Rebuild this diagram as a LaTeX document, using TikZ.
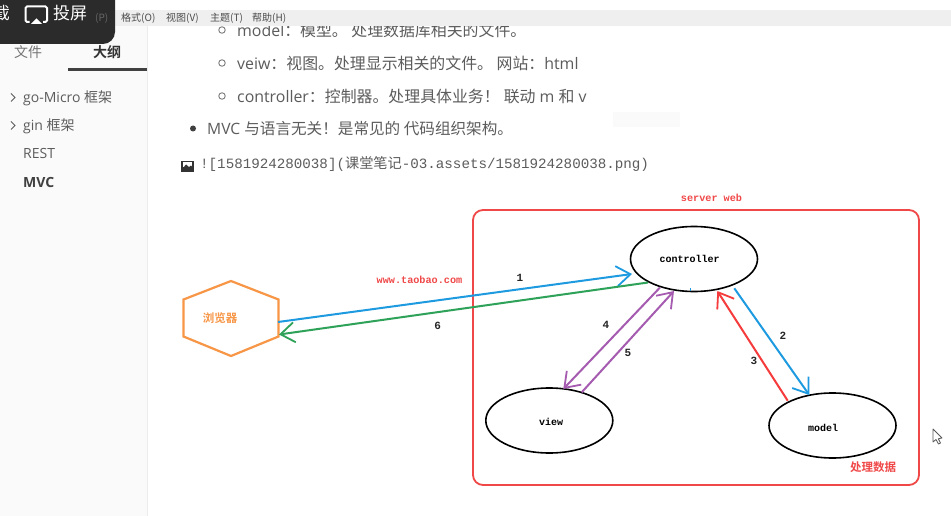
\documentclass[tikz,border=0pt]{standalone}
\usepackage{fontspec}
\setmainfont{Open Sans}
\newfontfamily\cjk{Noto Sans CJK SC}
\newfontfamily\cjkb{Noto Sans CJK SC Bold}
\newfontfamily\monof{Liberation Mono}
\newfontfamily\diagf{Liberation Mono}
\usetikzlibrary{arrows.meta,calc}
\definecolor{docgray}{HTML}{5C5C5C}
\definecolor{sideline}{HTML}{ECECEC}
\definecolor{sidebg}{HTML}{FBFAFB}
\definecolor{menubg}{HTML}{F0EFF0}
\definecolor{darkbox}{HTML}{2B2B2B}
\definecolor{redbox}{HTML}{F04848}
\definecolor{orangeh}{HTML}{F79646}
\definecolor{bluearr}{HTML}{1E9BE0}
\definecolor{greenarr}{HTML}{2EA258}
\definecolor{purplearr}{HTML}{A55CB0}
\definecolor{redarr}{HTML}{F53B3B}
\newcommand{\zh}[1]{{\cjk #1}}
\tikzset{
  px/.style={x=1pt,y=-1pt},
  doctext/.style={anchor=base west,inner sep=0,text=docgray,font=\fontsize{15.9}{16}\selectfont},
  menutext/.style={anchor=base west,inner sep=0,text=black!70,font=\cjk\fontsize{10}{10}\selectfont},
  ghost/.style={anchor=base west,inner sep=0,text=white!28!darkbox,font=\cjk\fontsize{10}{10}\selectfont},
  sidetext/.style={anchor=base west,inner sep=0,text=docgray,font=\fontsize{14}{14}\selectfont},
  subbullet/.style={circle,draw=docgray!80,line width=.9pt,inner sep=0,minimum size=6.5pt},
  chev/.style={draw=docgray,line width=.9pt},
  diagword/.style={inner sep=0,font=\diagf\bfseries\fontsize{10}{10}\selectfont,text=black},
  diagred/.style={inner sep=0,font=\diagf\bfseries\fontsize{10.2}{10}\selectfont,text=redbox},
  stepno/.style={inner sep=0,font=\diagf\bfseries\fontsize{11}{10}\selectfont,text=black!85},
  blob/.style={ellipse,draw=black,line width=1.6pt,minimum width=127pt,minimum height=65pt,inner sep=0},
  barb/.style={line width=2pt,-{Straight Barb[length=14pt,width=20pt,line width=1.8pt]}},
}
\usetikzlibrary{shapes.geometric}
\begin{document}
\begin{tikzpicture}[px]
\useasboundingbox (0,0) rectangle (951,516);
\fill[white] (0,0) rectangle (951,516);
% sidebar
\fill[sidebg] (0,26) rectangle (147,516);
\draw[sideline,line width=1pt] (147.5,26) -- (147.5,516);
\node[anchor=center,inner sep=0,text=docgray!85,font=\cjk\fontsize{14}{14}\selectfont] (tabfile) at (28,52) {文件};
\node[anchor=center,inner sep=0,text=black!80,font=\cjkb\fontsize{14}{14}\selectfont] (tabout) at (107,52) {大纲};
\fill[black!75] (68,68) rectangle (147,71);
\draw[chev] (11,93.5) -- (15,97.5) -- (11,101.5);
\draw[chev] (11,121.5) -- (15,125.5) -- (11,129.5);
\node[sidetext] (s1) at (23,103) {go-Micro \zh{框架}};
\node[sidetext] (s2) at (23,131) {gin \zh{框架}};
\node[sidetext] (s3) at (23,159) {REST};
\node[sidetext,font=\bfseries\fontsize{14}{14}\selectfont,text=black!75] (s4) at (23,187) {MVC};
% document text
\node[subbullet] (b1) at (222,30) {};
\node[subbullet] (b2) at (222,63) {};
\node[subbullet] (b3) at (222,96) {};
\node[doctext] (t1) at (237,36.5) {model\zh{：模型。 处理数据库相关的文件。}};
\node[doctext] (t2) at (237,69.5) {veiw\zh{：视图。处理显示相关的文件。 网站：}html};
\node[doctext] (t3) at (237,102.5) {controller\zh{：控制器。处理具体业务！\hspace{4pt}联动} m \zh{和} v};
\node[circle,fill=black!75,inner sep=0,minimum size=6pt] (b4) at (193,128.5) {};
\node[doctext,font=\fontsize{15.6}{16}\selectfont] (t4) at (207,134.5) {MVC \zh{与语言无关！是常见的 代码组织架构。}};
\fill[black!2] (613,112) rectangle (680,127);
% image icon
\fill[black!80] (181,161) rectangle (194,172);
\fill[white] (183,162.5) rectangle (192,167);
\fill[black!80] (183,168) -- (186,164.5) -- (189,167) -- (191,165.5) -- (193,168) -- cycle;
\node[anchor=base west,inner sep=0,text=docgray,font=\monof\fontsize{14.2}{14}\selectfont] (t5) at (200,168.5) {![1581924280038](\zh{课堂笔记}-03.assets/1581924280038.png)};
% menu bar
\fill[menubg] (0,10) rectangle (951,26);
\node[menutext] (m1) at (121,22) {格式(O)};
\node[menutext] (m2) at (166,22) {视图(V)};
\node[menutext] (m3) at (210,22) {主题(T)};
\node[menutext] (m4) at (252,22) {帮助(H)};
% dark overlay
\fill[darkbox] (0,0) -- (115,0) -- (115,32) arc[start angle=0,end angle=90,radius=12] -- (0,44) -- cycle;
\begin{scope}
\clip (0,0) rectangle (115,44);
\node[anchor=base east,inner sep=0,text=white,font=\cjk\fontsize{17}{17}\selectfont] (cutchar) at (10,20) {截};
\node[ghost] (ghost3) at (95,22) {(P)};
\end{scope}
\draw[white,line width=2pt,rounded corners=1.5pt] (29.5,22) -- (25.5,22) -- (25.5,6.5) -- (47,6.5) -- (47,22) -- (43,22);
\fill[white] (31,24) -- (42,24) -- (36.5,18.5) -- cycle;
\node[anchor=base west,inner sep=0,text=white,font=\cjk\fontsize{17}{17}\selectfont] (cast) at (53,20) {投屏};
% diagram
\draw[redbox,line width=1.8pt,rounded corners=10pt] (473,210) rectangle (919,485);
\coordinate (hex) at (231,318.5);
\draw[orangeh,line width=2.2pt,line join=miter]
  ($(hex)+(-47.5,-19)$) -- ($(hex)+(0,-37.5)$) -- ($(hex)+(47.5,-19)$) -- ($(hex)+(47.5,18)$) -- ($(hex)+(0,37.5)$) -- ($(hex)+(-47.5,18)$) -- cycle;
\node[inner sep=0,text=orangeh,font=\cjkb\fontsize{11.5}{12}\selectfont] (hexlabel) at (220,318) {浏览器};
\node[blob] (ctrl) at (694,259) {};
\node[blob] (viewn) at (549.3,420.5) {};
\node[blob] (modeln) at (832.5,425.5) {};
\node[diagword] (ctrltext) at (689.5,258.7) {controller};
\node[diagword] (viewtext) at (551,421.5) {view};
\node[diagword] (modeltext) at (823,428.3) {model};
\node[diagred] (server) at (711.5,198) {server web};
\node[diagred] (url) at (419.5,279.5) {www.taobao.com};
\node[inner sep=0,text=redbox,font=\cjkb\fontsize{11.5}{12}\selectfont] (proc) at (873,467) {处理数据};
% arrows
\draw[barb,bluearr] ([shift={(47,3.5)}]hex) -- ([shift={(-62,15)}]ctrl.center);
\draw[barb,greenarr] ([shift={(-46,23.5)}]ctrl.center) -- ([shift={(48,16)}]hex);
\draw[barb,purplearr] ([shift={(-34,28.5)}]ctrl.center) -- ([shift={(14,-31.5)}]viewn.center);
\draw[barb,purplearr] ([shift={(32.4,-28.2)}]viewn.center) -- ([shift={(-20,32)}]ctrl.center);
\draw[barb,bluearr] ([shift={(40.3,29.3)}]ctrl.center) -- ([shift={(-23.2,-30.5)}]modeln.center);
\draw[barb,redarr] ([shift={(-44.8,-24.8)}]modeln.center) -- ([shift={(23.3,32)}]ctrl.center);
\fill[bluearr] (689.5,288) rectangle (691,291);
\node[stepno] (n1) at (520,277.5) {1};
\node[stepno] (n2) at (783,336) {2};
\node[stepno] (n3) at (754,361) {3};
\node[stepno] (n4) at (606,325) {4};
\node[stepno] (n5) at (628,353) {5};
\node[stepno] (n6) at (437.7,326) {6};
% mouse pointer
\draw[black!65,line width=.8pt,line join=round,fill=white] (933,429) -- (933,442) -- (936,439.5) -- (938.5,444) -- (940.5,443) -- (938.3,438.8) -- (942,438) -- cycle;
\end{tikzpicture}
\end{document}
